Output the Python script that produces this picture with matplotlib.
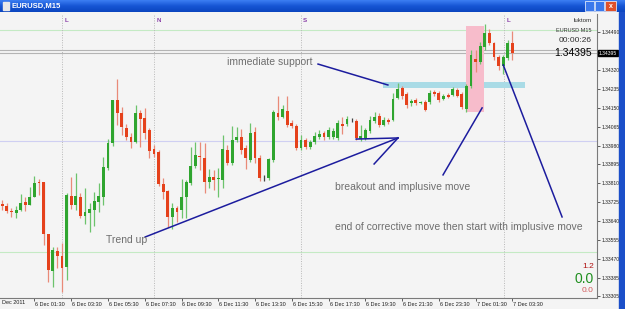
import matplotlib.pyplot as plt
import matplotlib.transforms as mtransforms
from matplotlib.patches import Rectangle
import numpy as np

plt.rcParams['font.family'] = ['Liberation Sans', 'DejaVu Sans']

W, H = 625, 309

# EURUSD M15, one candle per 15 minutes, first bar 5 Dec 23:45
opens = [1.33717, 1.33708, 1.33686, 1.33677, 1.33690, 1.33726, 1.33713, 1.33749, 1.33816, 1.33816,
         1.33583, 1.33416, 1.33506, 1.33484, 1.33434, 1.33753, 1.33713, 1.33749, 1.33663, 1.33677,
         1.33690, 1.33726, 1.33749, 1.33879, 1.33991, 1.34185, 1.34126, 1.34059, 1.34018, 1.33996,
         1.34126, 1.34104, 1.34050, 1.33964, 1.33951, 1.33807, 1.33776, 1.33659, 1.33699, 1.33690,
         1.33749, 1.33812, 1.33888, 1.33933, 1.33924, 1.33816, 1.33839, 1.33830, 1.33825, 1.33960,
         1.33902, 1.34005, 1.34018, 1.33969, 1.33915, 1.34041, 1.33924, 1.33834, 1.33834, 1.33915,
         1.34126, 1.34108, 1.34135, 1.34081, 1.34068, 1.33969, 1.34005, 1.33973, 1.33996, 1.34018,
         1.34036, 1.34018, 1.34018, 1.34014, 1.34077, 1.34077, 1.34095, 1.34090, 1.34009, 1.34014,
         1.34045, 1.34090, 1.34113, 1.34072, 1.34095, 1.34095, 1.34194, 1.34238, 1.34211, 1.34171,
         1.34185, 1.34171, 1.34176, 1.34176, 1.34220, 1.34216, 1.34189, 1.34207, 1.34207, 1.34229,
         1.34211, 1.34144, 1.34247, 1.34369, 1.34355, 1.34423, 1.34486, 1.34441, 1.34378, 1.34337,
         1.34373, 1.34441]
highs = [1.33735, 1.33722, 1.33699, 1.33708, 1.33762, 1.33749, 1.33794, 1.33843, 1.33830, 1.33816,
         1.33583, 1.33524, 1.33524, 1.33542, 1.33767, 1.33839, 1.33857, 1.33767, 1.33789, 1.33722,
         1.33771, 1.33812, 1.33928, 1.34009, 1.34185, 1.34279, 1.34153, 1.34077, 1.34036, 1.34162,
         1.34140, 1.34149, 1.34059, 1.33982, 1.33960, 1.33834, 1.33780, 1.33722, 1.33708, 1.33830,
         1.33825, 1.33973, 1.33996, 1.33996, 1.33991, 1.33875, 1.33870, 1.33879, 1.34027, 1.33982,
         1.34068, 1.34063, 1.34054, 1.33982, 1.34081, 1.34063, 1.33937, 1.33848, 1.33924, 1.34140,
         1.34203, 1.34162, 1.34203, 1.34095, 1.34077, 1.34027, 1.34014, 1.34005, 1.34041, 1.34050,
         1.34045, 1.34063, 1.34059, 1.34095, 1.34108, 1.34113, 1.34104, 1.34099, 1.34072, 1.34059,
         1.34113, 1.34131, 1.34126, 1.34108, 1.34104, 1.34216, 1.34261, 1.34247, 1.34220, 1.34189,
         1.34194, 1.34180, 1.34185, 1.34229, 1.34229, 1.34225, 1.34211, 1.34216, 1.34243, 1.34238,
         1.34220, 1.34256, 1.34409, 1.34409, 1.34445, 1.34526, 1.34503, 1.34445, 1.34387, 1.34387,
         1.34454, 1.34494]
lows = [1.33690, 1.33677, 1.33659, 1.33654, 1.33686, 1.33686, 1.33713, 1.33749, 1.33758, 1.33533,
        1.33367, 1.33345, 1.33430, 1.33322, 1.33376, 1.33695, 1.33690, 1.33654, 1.33628, 1.33592,
        1.33619, 1.33681, 1.33713, 1.33870, 1.33978, 1.34072, 1.34027, 1.34005, 1.33969, 1.33991,
        1.33973, 1.34009, 1.33924, 1.33928, 1.33798, 1.33740, 1.33614, 1.33605, 1.33637, 1.33654,
        1.33654, 1.33803, 1.33879, 1.33870, 1.33767, 1.33789, 1.33780, 1.33749, 1.33789, 1.33893,
        1.33893, 1.33996, 1.33942, 1.33875, 1.33906, 1.33902, 1.33821, 1.33821, 1.33825, 1.33906,
        1.34095, 1.34104, 1.34063, 1.34059, 1.33960, 1.33960, 1.33964, 1.33964, 1.33987, 1.34009,
        1.34005, 1.34009, 1.34009, 1.34005, 1.34032, 1.34068, 1.34086, 1.34005, 1.34000, 1.34005,
        1.34036, 1.34081, 1.34063, 1.34068, 1.34077, 1.34090, 1.34189, 1.34189, 1.34149, 1.34158,
        1.34162, 1.34167, 1.34135, 1.34167, 1.34203, 1.34176, 1.34185, 1.34194, 1.34203, 1.34198,
        1.34144, 1.34131, 1.34238, 1.34310, 1.34346, 1.34409, 1.34432, 1.34364, 1.34319, 1.34301,
        1.34364, 1.34364]
closes = [1.33708, 1.33686, 1.33681, 1.33690, 1.33722, 1.33713, 1.33749, 1.33812, 1.33812, 1.33583,
          1.33421, 1.33511, 1.33484, 1.33430, 1.33758, 1.33713, 1.33753, 1.33663, 1.33681, 1.33695,
          1.33731, 1.33753, 1.33884, 1.33991, 1.34185, 1.34126, 1.34063, 1.34018, 1.33996, 1.34126,
          1.34099, 1.34036, 1.33955, 1.33942, 1.33807, 1.33771, 1.33659, 1.33699, 1.33681, 1.33749,
          1.33816, 1.33888, 1.33937, 1.33928, 1.33816, 1.33839, 1.33825, 1.33834, 1.33964, 1.33902,
          1.34005, 1.34018, 1.33960, 1.33924, 1.34036, 1.33924, 1.33834, 1.33834, 1.33919, 1.34131,
          1.34108, 1.34144, 1.34072, 1.34068, 1.33969, 1.34005, 1.33973, 1.33996, 1.34023, 1.34032,
          1.34018, 1.34050, 1.34045, 1.34081, 1.34068, 1.34099, 1.34095, 1.34014, 1.34023, 1.34050,
          1.34095, 1.34108, 1.34072, 1.34095, 1.34086, 1.34189, 1.34234, 1.34203, 1.34162, 1.34180,
          1.34171, 1.34176, 1.34140, 1.34216, 1.34211, 1.34185, 1.34203, 1.34198, 1.34234, 1.34203,
          1.34153, 1.34247, 1.34387, 1.34355, 1.34427, 1.34486, 1.34441, 1.34378, 1.34337, 1.34378,
          1.34441, 1.34396]

price_ticks = [1.34490, 1.34320, 1.34235, 1.34150, 1.34065, 1.33980, 1.33895, 1.33810,
               1.33725, 1.33640, 1.33555, 1.33470, 1.33385, 1.33305]
time_labels = ['6 Dec 01:30', '6 Dec 03:30', '6 Dec 05:30', '6 Dec 07:30', '6 Dec 09:30',
               '6 Dec 11:30', '6 Dec 13:30', '6 Dec 15:30', '6 Dec 17:30', '6 Dec 19:30',
               '6 Dec 21:30', '6 Dec 23:30', '7 Dec 01:30', '7 Dec 03:30']
time_bars = [7, 15, 23, 31, 39, 47, 55, 63, 71, 79, 87, 95, 103, 111]
events = [(13.06, 'L'), (33.08, 'N'), (65.0, 'S'), (109.2, 'L')]
last_price = 1.34395
ask_price = 1.34411


def fx(px):
    return px / W


def fy(py):
    return 1 - py / H


fig = plt.figure(figsize=(W / 100, H / 100), dpi=100, facecolor='#f4f4f4')
ax = fig.add_axes([0, fy(297.5), 597 / W, (297.5 - 14) / H])
ax.set_facecolor('#f4f4f4')
ax.set_xlim(-0.5, 129.4)
ax.set_ylim(1.33297, 1.34571)

o = np.array(opens)
hi = np.array(highs)
lo = np.array(lows)
c = np.array(closes)
idx = np.arange(len(o))

up = c > o
dn = c < o
body_col = np.where(up, '#2fa52f', np.where(dn, '#e5411b', '#000000'))
wick_col = np.where(up, '#6cc36c', np.where(dn, '#e98a78', '#444444'))
height = np.maximum(np.abs(c - o), 0.000012)

ax.vlines(idx, lo, hi, colors=wick_col, lw=0.9, zorder=3)
ax.bar(idx, height, bottom=np.minimum(o, c), width=0.62, color=body_col, lw=0, zorder=4)

# horizontal levels
ax.axhline(1.34000, color='#cfcff2', lw=0.8, zorder=1)
ax.axhline(1.34500, color='#c4eac4', lw=0.8, zorder=1)
ax.axhline(1.33500, color='#c4eac4', lw=0.8, zorder=1)
ax.axhline(ask_price, color='#b4b4b4', lw=0.8, zorder=1)
ax.axhline(last_price, color='#b4b4b4', lw=0.8, zorder=1)

# event separators
top = mtransforms.blended_transform_factory(ax.transData, ax.transAxes)
for k, letter in events:
    ax.axvline(k, color='#b8b8b8', lw=0.7, ls=(0, (1, 1.5)), zorder=1)
    ax.text(k + 0.5, 0.985, letter, transform=top, fontsize=4.5, color='#8a3fa8',
            va='top', ha='left', fontweight='bold')

# support zone and breakout box
ax.add_patch(Rectangle((82.8, 1.34238), 31.0, 0.00027, color='#a9dbe6', lw=0, zorder=2))
ax.add_patch(Rectangle((100.9, 1.34131), 3.9, 0.00386, color='#f7bccb', lw=0, zorder=2))

# hand drawn lines
navy = '#1c1c9e'
ax.plot([68.7, 83.9], [1.34346, 1.34252], color=navy, lw=1.1, zorder=5)
ax.plot([31.1, 86.1], [1.33569, 1.34014], color=navy, lw=1.1, zorder=5)
ax.plot([77.0, 86.1], [1.34009, 1.34014], color=navy, lw=1.1, zorder=5)
ax.plot([80.9, 86.1], [1.33897, 1.34014], color=navy, lw=1.1, zorder=5)
ax.plot([95.9, 104.4], [1.33848, 1.34149], color=navy, lw=1.1, zorder=5)
ax.plot([109.0, 121.8], [1.34342, 1.33659], color=navy, lw=1.1, zorder=5)

# axes frame
for s in ['left', 'top']:
    ax.spines[s].set_visible(False)
for s in ['right', 'bottom']:
    ax.spines[s].set_color('#7a7a7a')
    ax.spines[s].set_linewidth(0.8)

ax.yaxis.tick_right()
ax.set_yticks(price_ticks)
ax.set_yticklabels(['%.5f' % p for p in price_ticks])
ax.tick_params(axis='y', labelsize=3.6, length=2, width=0.5, pad=1, colors='#202020')
ax.set_xticks(time_bars)
ax.set_xticklabels([])
ax.tick_params(axis='x', length=2, width=0.5, colors='#202020')
bottom = mtransforms.blended_transform_factory(ax.transData, ax.transAxes)
for k, lab in zip(time_bars, time_labels):
    ax.text(k + 0.2, -0.015, lab, transform=bottom, fontsize=4, ha='left', va='top',
            color='#202020', clip_on=False)
fig.text(fx(2), fy(300), 'Dec 2011', fontsize=4, ha='left', va='top', color='#202020')

ylab = mtransforms.blended_transform_factory(ax.transAxes, ax.transData)
ax.text(1.003, last_price, '%.5f' % last_price, transform=ylab, fontsize=3.6, color='white',
        va='center', ha='left', bbox=dict(boxstyle='square,pad=0.15', fc='black', ec='black'))

# annotations
gray = '#6e6e6e'
fig.text(fx(227), fy(62), 'immediate support', fontsize=7.5, color=gray, va='center')
fig.text(fx(106), fy(240), 'Trend up', fontsize=7.5, color=gray, va='center')
fig.text(fx(335), fy(187), 'breakout and implusive move', fontsize=7.5, color=gray, va='center')
fig.text(fx(335), fy(227), 'end of corrective move then start with implusive move',
         fontsize=7.5, color=gray, va='center')

# info corner
fig.text(fx(592), fy(21), 'luktom', fontsize=4.5, color='#303030', ha='right', va='center')
fig.text(fx(592), fy(30), 'EURUSD M15', fontsize=4, color='#303030', ha='right', va='center')
fig.text(fx(592), fy(41), '00:00:26', fontsize=6, color='#303030', ha='right', va='center')
fig.text(fx(592), fy(53), '1.34395', fontsize=7.5, color='black', ha='right', va='center')
fig.text(fx(594), fy(267), '1.2', fontsize=6, color='#b01010', ha='right', va='center')
fig.text(fx(594), fy(279), '0.0', fontsize=10, color='#1f8f1f', ha='right', va='center')
fig.text(fx(594), fy(290), '0.0', fontsize=6, color='#d05a5a', ha='right', va='center')

# window title bar
tb = fig.add_axes([0, fy(12), 1, 12 / H])
grad = np.linspace(0, 1, 20).reshape(-1, 1)
tb.imshow(grad, aspect='auto', cmap=plt.matplotlib.colors.LinearSegmentedColormap.from_list(
    'tb', ['#3b7df2', '#1655d4', '#0c46c0']), extent=[0, 1, 0, 1])
tb.set_xlim(0, 1)
tb.set_ylim(0, 1)
tb.axis('off')
tb.text(fx(12), 0.5, 'EURUSD,M15', color='white', fontsize=5.5, fontweight='bold', va='center')
tb.add_patch(Rectangle((fx(3), 0.2), fx(6), 0.6, color='#e8e8e8'))
tb.add_patch(Rectangle((fx(585), 0.1), fx(9), 0.8, fc='#3b78ec', ec='white', lw=0.5))
tb.add_patch(Rectangle((fx(595), 0.1), fx(9), 0.8, fc='#3b78ec', ec='white', lw=0.5))
tb.add_patch(Rectangle((fx(605), 0.1), fx(11), 0.8, fc='#e0502a', ec='white', lw=0.5))
tb.text(fx(610.5), 0.48, 'x', color='white', fontsize=5, fontweight='bold', ha='center', va='center')

fig.patches.append(Rectangle((fx(619), 0), fx(6), fy(12), transform=fig.transFigure,
                             color='#1b4fc9', zorder=0))

fig.savefig('out.png', dpi=100, facecolor=fig.get_facecolor())
